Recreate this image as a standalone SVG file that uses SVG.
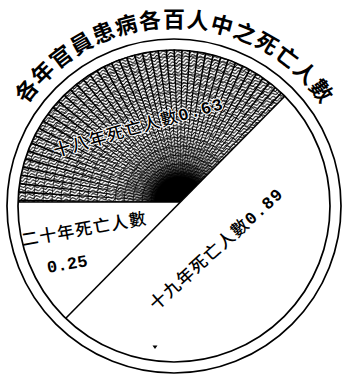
<svg xmlns="http://www.w3.org/2000/svg" width="343" height="375" viewBox="0 0 343 375">
<style>
.ring{fill:none;stroke:#000;stroke-width:1.7}
.div{fill:none;stroke:#000;stroke-width:1.6}
.t{font-family:"Noto Sans CJK TC","Noto Sans CJK JP",sans-serif;fill:#000}
.title{font-size:22px;font-weight:700;text-anchor:middle}
.lab{font-size:17px;font-weight:500}
.num{font-family:"Liberation Mono","DejaVu Sans Mono",monospace;font-weight:700}
.halo{paint-order:stroke;stroke:#fff;stroke-width:2;stroke-linejoin:round}
</style>
<defs>
<clipPath id="sec"><path d="M180,202 L18,202 A156,156 0 0 1 285,96 Z"/></clipPath>
<pattern id="wave" patternUnits="userSpaceOnUse" width="7" height="3.2" patternTransform="rotate(-12)">
<path d="M0,1.6 C1.75,0 1.75,0 3.5,1.6 S5.25,3.2 7,1.6" fill="none" stroke="#000" stroke-width="1"/>
</pattern>
<radialGradient id="core" gradientUnits="userSpaceOnUse" cx="180" cy="202" r="70">
<stop offset="0" stop-color="#000"/>
<stop offset="0.36" stop-color="#000"/>
<stop offset="0.6" stop-color="#000" stop-opacity="0.35"/>
<stop offset="1" stop-color="#000" stop-opacity="0"/>
</radialGradient>
</defs>
<rect width="343" height="375" fill="#fff"/>

<g id="hatch" clip-path="url(#sec)">
<rect x="0" y="0" width="343" height="375" fill="url(#wave)"/>
<circle cx="180" cy="202" r="82" fill="none" stroke="#000" stroke-width="166" stroke-dasharray="0.9 3.3935"/>
<g fill="none" stroke="#000" stroke-width="0.7">
<circle cx="180" cy="202" r="20"/><circle cx="180" cy="202" r="29"/><circle cx="180" cy="202" r="38"/>
<circle cx="180" cy="202" r="47"/><circle cx="180" cy="202" r="56"/><circle cx="180" cy="202" r="65"/>
<circle cx="180" cy="202" r="74"/><circle cx="180" cy="202" r="83"/><circle cx="180" cy="202" r="92"/>
<circle cx="180" cy="202" r="101"/><circle cx="180" cy="202" r="110"/><circle cx="180" cy="202" r="119"/>
<circle cx="180" cy="202" r="128"/><circle cx="180" cy="202" r="137"/><circle cx="180" cy="202" r="146"/>
<circle cx="180" cy="202" r="155"/>
</g>
<circle cx="180" cy="202" r="70" fill="url(#core)"/>
</g>

<g id="circles">
<circle class="ring" cx="174" cy="206" r="167"/>
<circle class="ring" cx="174" cy="206" r="156"/>
</g>

<g id="connectors">
<path class="div" d="M18,202 L180,202"/>
<path class="div" d="M285,96 L66,318"/>
</g>

<g id="title" class="t title">
<text x="174" y="27" transform="rotate(-52 174 206)">各</text>
<text x="174" y="27" transform="rotate(-44.57 174 206)">年</text>
<text x="174" y="27" transform="rotate(-37.14 174 206)">官</text>
<text x="174" y="27" transform="rotate(-29.71 174 206)">員</text>
<text x="174" y="27" transform="rotate(-22.29 174 206)">患</text>
<text x="174" y="27" transform="rotate(-14.86 174 206)">病</text>
<text x="174" y="27" transform="rotate(-7.43 174 206)">各</text>
<text x="174" y="27" transform="rotate(0 174 206)">百</text>
<text x="174" y="27" transform="rotate(7.43 174 206)">人</text>
<text x="174" y="27" transform="rotate(14.86 174 206)">中</text>
<text x="174" y="27" transform="rotate(22.29 174 206)">之</text>
<text x="174" y="27" transform="rotate(29.71 174 206)">死</text>
<text x="174" y="27" transform="rotate(37.14 174 206)">亡</text>
<text x="174" y="27" transform="rotate(44.57 174 206)">人</text>
<text x="174" y="27" transform="rotate(52 174 206)">數</text>
</g>

<g id="sector-18">
<text class="t lab halo" font-size="16" letter-spacing="1.5" transform="translate(55.5,157) rotate(-16)">十八年死亡人數<tspan class="num">0.63</tspan></text>
</g>

<g id="sector-20">
<text class="t lab" letter-spacing="1.2" transform="translate(22.5,246) rotate(-10)">二十年死亡人數</text>
<text class="t lab num" transform="translate(48,273) rotate(-10)">0.25</text>
</g>

<g id="sector-19">
<text class="t lab" letter-spacing="1.2" transform="translate(156,311) rotate(-42)">十九年死亡人數<tspan class="num">0.89</tspan></text>
</g>

<path id="mark" d="M152.5,345.5 L157.5,345.5 L155,349 Z" fill="#000"/>
</svg>
